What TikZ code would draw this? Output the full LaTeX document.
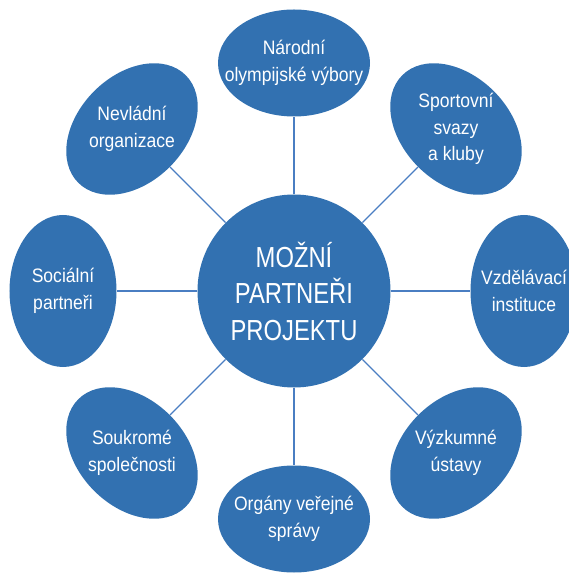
\documentclass[tikz,border=0pt]{standalone}
\usepackage{fontspec}
\usetikzlibrary{shapes.geometric}
\newfontfamily\ringfont{Liberation Sans}[FakeStretch=0.9]
\newfontfamily\hubfont{Liberation Sans}[FakeStretch=0.82]
\definecolor{partnerblue}{HTML}{3271B1}
\definecolor{spokeblue}{HTML}{4A7EC2}
\tikzset{
  partner/.style={ellipse, fill=partnerblue, draw=none, inner sep=0pt,
    minimum width=152pt, minimum height=107pt},
  partnertext/.style={text=white, align=center, inner sep=0pt,
    font=\ringfont\fontsize{19.5}{26.5}\selectfont},
  spoke/.style={draw=spokeblue, line width=1.2pt}
}
\begin{document}
\begin{tikzpicture}[x=1pt,y=1pt]
        \useasboundingbox (-294,-284) rectangle (275,291);

        % centre
        \node[circle, fill=partnerblue, minimum size=193pt, inner sep=0pt] (hub) at (0,0) {};
        \node[text=white, align=center, font=\hubfont\fontsize{29}{36.5}\selectfont] (hubtext) at (0,0)
            {MOŽNÍ\\PARTNEŘI\\PROJEKTU};

        % partners
        \node[partner] (narodni) at (0,228) {};
        \node[partner, rotate=-45] (svazy) at (162,162) {};
        \node[partner, rotate=90] (vzdelavaci) at (230,0) {};
        \node[partner, rotate=45] (vyzkumne) at (162,-162) {};
        \node[partner] (organy) at (0,-228) {};
        \node[partner, rotate=-45] (soukrome) at (-162,-162) {};
        \node[partner, rotate=90] (socialni) at (-231,0) {};
        \node[partner, rotate=45] (nevladni) at (-162,162) {};

        \node[partnertext] (narodnitext) at (narodni) {Národní\\olympijské výbory};
        \node[partnertext] (svazytext) at (svazy) {Sportovní\\svazy\\a kluby};
        \node[partnertext] (vzdelavacitext) at (vzdelavaci) {Vzdělávací\\instituce};
        \node[partnertext] (vyzkumnetext) at (vyzkumne) {Výzkumné\\ústavy};
        \node[partnertext] (organytext) at (organy) {Orgány veřejné\\správy};
        \node[partnertext] (soukrometext) at (soukrome) {Soukromé\\společnosti};
        \node[partnertext] (socialnitext) at (socialni) {Sociální\\partneři};
        \node[partnertext] (nevladnitext) at (nevladni) {Nevládní\\organizace};

        % spokes
        \foreach \p in {narodni,svazy,vzdelavaci,vyzkumne,organy,soukrome,socialni,nevladni}
            \draw[spoke] (hub) -- (\p);
    \end{tikzpicture}
\end{document}
